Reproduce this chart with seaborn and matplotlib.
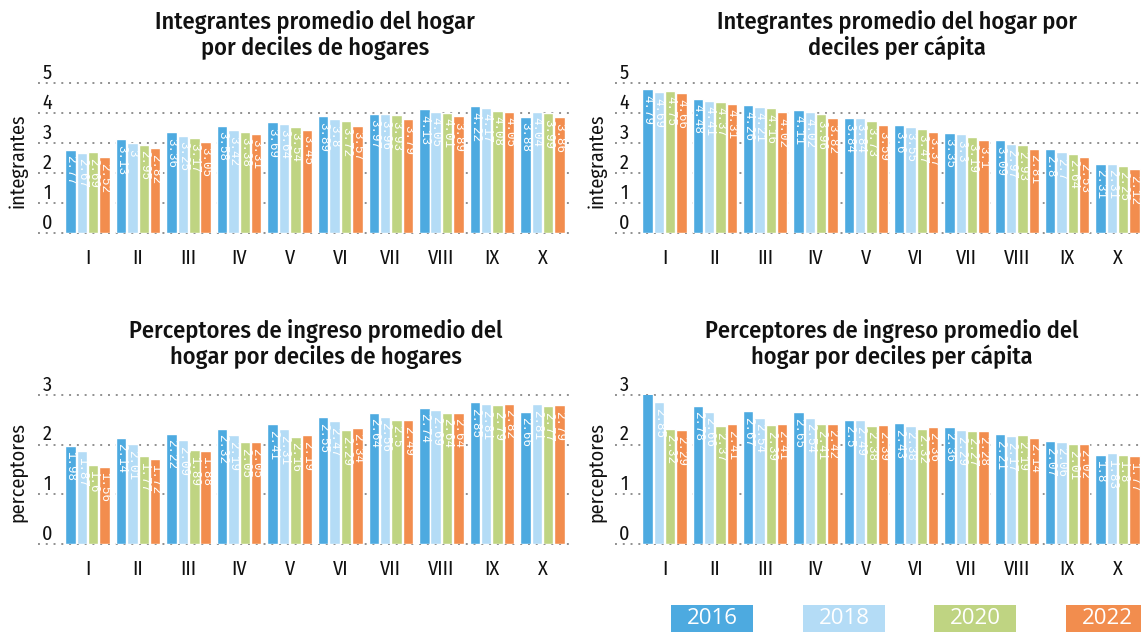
import matplotlib
matplotlib.use("Agg")
import pandas as pd
import matplotlib.pyplot as plt
from matplotlib.patches import Rectangle
import seaborn as sns

deciles = ["I", "II", "III", "IV", "V", "VI", "VII", "VIII", "IX", "X"]
years = ["2016", "2018", "2020", "2022"]
colors = ["#4DAAE0", "#B4DCF6", "#BFD482", "#F28D4E"]

# integrantes promedio, deciles de hogares
int_hogares = {
    "2016": [2.77, 3.13, 3.36, 3.58, 3.69, 3.89, 3.97, 4.13, 4.22, 3.88],
    "2018": [2.67, 3.0, 3.25, 3.42, 3.64, 3.8, 3.96, 4.05, 4.17, 4.04],
    "2020": [2.69, 2.95, 3.17, 3.38, 3.54, 3.72, 3.93, 4.01, 4.08, 3.99],
    "2022": [2.52, 2.82, 3.05, 3.31, 3.45, 3.57, 3.79, 3.89, 4.05, 3.86],
}
# integrantes promedio, deciles per capita
int_percapita = {
    "2016": [4.79, 4.48, 4.26, 4.11, 3.84, 3.6, 3.35, 3.09, 2.8, 2.31],
    "2018": [4.69, 4.41, 4.21, 4.02, 3.84, 3.55, 3.3, 2.97, 2.7, 2.31],
    "2020": [4.75, 4.37, 4.16, 3.96, 3.73, 3.47, 3.19, 2.93, 2.64, 2.25],
    "2022": [4.66, 4.31, 4.02, 3.82, 3.59, 3.37, 3.1, 2.81, 2.53, 2.12],
}
# perceptores de ingreso, deciles de hogares
per_hogares = {
    "2016": [1.98, 2.14, 2.22, 2.32, 2.41, 2.55, 2.64, 2.74, 2.85, 2.66],
    "2018": [1.87, 2.01, 2.09, 2.19, 2.31, 2.47, 2.56, 2.69, 2.81, 2.81],
    "2020": [1.6, 1.77, 1.89, 2.05, 2.16, 2.29, 2.5, 2.64, 2.79, 2.77],
    "2022": [1.56, 1.72, 1.88, 2.05, 2.19, 2.34, 2.49, 2.64, 2.82, 2.79],
}
# perceptores de ingreso, deciles per capita
per_percapita = {
    "2016": [3.04, 2.78, 2.67, 2.65, 2.5, 2.43, 2.36, 2.21, 2.07, 1.8],
    "2018": [2.85, 2.66, 2.54, 2.54, 2.49, 2.38, 2.29, 2.17, 2.06, 1.83],
    "2020": [2.32, 2.37, 2.39, 2.41, 2.38, 2.32, 2.27, 2.19, 2.01, 1.8],
    "2022": [2.29, 2.41, 2.41, 2.42, 2.39, 2.36, 2.28, 2.14, 2.02, 1.77],
}

sns.set_theme(style="white")
plt.rcParams["font.family"] = ["Fira Sans Condensed", "DejaVu Sans"]

W, H = 1141, 632
fig = plt.figure(figsize=(W / 100, H / 100), dpi=100)


def to_long(data):
    rows = []
    for y in years:
        for d, v in zip(deciles, data[y]):
            rows.append({"decil": d, "anio": y, "valor": v})
    return pd.DataFrame(rows)


def panel(data, box, centers, ymax, ylabel, ylab_x, title, title_x, title_y):
    l, t, r, b = box
    ax = fig.add_axes([l / W, 1 - b / H, (r - l) / W, (b - t) / H])
    sns.barplot(data=to_long(data), x="decil", y="valor", hue="anio",
                order=deciles, hue_order=years, palette=colors, saturation=1,
                width=0.9, gap=0.08, legend=False, ax=ax, zorder=2)
    c0, c9 = centers
    s = (c9 - c0) / 9
    ax.set_xlim((l - c0) / s, (r - c0) / s)
    ax.set_ylim(0, ymax)
    sns.despine(ax=ax, left=True, bottom=True)
    ax.set_yticks([])
    ax.set_xlabel("")
    ax.set_ylabel("")
    ax.tick_params(axis="x", length=0, pad=11, labelsize=14.5, colors="#111111")

    for v in range(ymax + 1):
        ax.axhline(v, color="#909090", lw=1.4, ls=(0, (1, 3)), zorder=0, clip_on=False)
        ax.annotate(str(v), xy=(0, v), xycoords=("axes fraction", "data"),
                    xytext=(6.5, 3), textcoords="offset points",
                    ha="center", va="baseline", fontsize=14.5, color="#111111")

    for cont in ax.containers:
        for bar in cont:
            h = bar.get_height()
            ax.annotate(f"{h:g}", (bar.get_x() + bar.get_width() / 2, h),
                        xytext=(0, -4), textcoords="offset points",
                        rotation=270, ha="center", va="top", color="white",
                        fontsize=9, family="Liberation Mono", zorder=3)

    yc = (t + b) / 2 + 3
    fig.text(ylab_x / W, 1 - yc / H, ylabel, rotation=90, ha="center", va="center",
             fontsize=14.5, color="#111111")
    for line, ty in zip(title, title_y):
        fig.text(title_x / W, 1 - ty / H, line, ha="center", va="center",
                 fontsize=17.5, fontweight="medium", color="#111111")
    return ax


panel(int_hogares, (38, 83, 570, 233), (87.5, 542.5), 5, "integrantes", 18,
      ("Integrantes promedio del hogar", "por deciles de hogares"), 315, (22, 48))
panel(int_percapita, (615, 83, 1141, 233), (664.5, 1117.5), 5, "integrantes", 597,
      ("Integrantes promedio del hogar por", "deciles per cápita"), 897, (22, 48))
panel(per_hogares, (38, 395, 570, 544), (87.5, 542.5), 3, "perceptores", 18,
      ("Perceptores de ingreso promedio del", "hogar por deciles de hogares"), 316, (331, 357))
panel(per_percapita, (615, 395, 1141, 544), (664.5, 1117.5), 3, "perceptores", 597,
      ("Perceptores de ingreso promedio del", "hogar por deciles per cápita"), 892, (331, 357))

# legend boxes
for x0, y, c in zip([671, 803, 934, 1066], years, colors):
    fig.patches.append(Rectangle((x0 / W, 0), 82 / W, 27 / H, transform=fig.transFigure,
                                 facecolor=c, edgecolor="none"))
    fig.text((x0 + 41) / W, 13.5 / H, y, ha="center", va="center", color="white",
             fontsize=16, family=["Open Sans", "DejaVu Sans"])

fig.savefig("out.png", dpi=100)
